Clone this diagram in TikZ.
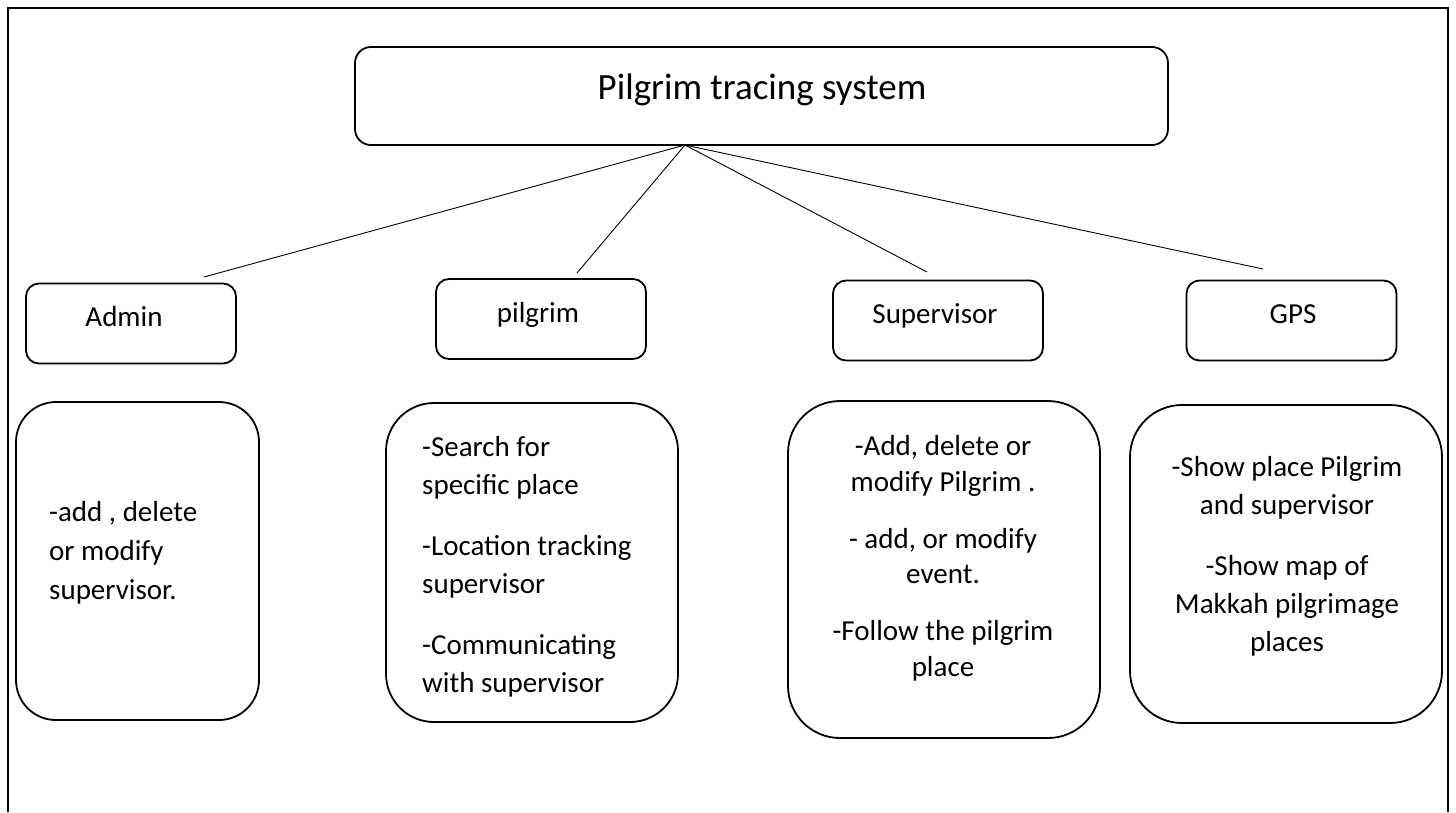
\documentclass[tikz,border=0pt]{standalone}
\usepackage{fontspec}
\setmainfont{Carlito}
\usetikzlibrary{calc}

\begin{document}
\begin{tikzpicture}[x=1pt,y=-1pt,
  outline/.style={line width=1.8pt},
  box/.style={draw, line width=1.8pt, inner sep=0pt},
  smallbox/.style={box, minimum width=210pt, minimum height=80pt, rounded corners=13pt},
  conn/.style={line width=0.9pt},
  lbl/.style={inner sep=0pt, font=\fontsize{29pt}{38pt}\selectfont},
  title/.style={inner sep=0pt, font=\fontsize{37pt}{44pt}\selectfont},
]
\useasboundingbox (0,0) rectangle (1456,812);

% open frame round the chart
\draw[outline] (8,812) -- (8,8) -- (1448,8) -- (1448,812);

% root of the tree
\node[box, minimum width=813pt, minimum height=98pt, rounded corners=16pt] (root) at (761.5,96) {};
\node[title, anchor=base] (roottxt) at (762,99) {Pilgrim tracing system};
\coordinate (hub) at (685,145);

% the four actors
\node[smallbox] (admin) at (131,323.5) {};
\node[lbl, anchor=base] (admintxt) at (124,326) {Admin};
\node[smallbox] (pilgrim) at (541,319) {};
\node[lbl, anchor=base] (pilgrimtxt) at (538,322) {pilgrim};
\node[smallbox] (super) at (938,320.5) {};
\node[lbl, anchor=base] (supertxt) at (935,323) {Supervisor};
\node[smallbox] (gps) at (1291.5,320.5) {};
\node[lbl, anchor=base] (gpstxt) at (1293,323) {GPS};

% branch lines stop just short of the actor boxes
\coordinate (endA) at (204,277);
\coordinate (endP) at (577,273);
\coordinate (endS) at (927,272);
\coordinate (endG) at (1263,269);
\draw[conn] (hub) -- (endA);
\draw[conn] (hub) -- (endP);
\draw[conn] (hub) -- (endS);
\draw[conn] (hub) -- (endG);

% duties of each actor (multi-line labels sit on the baseline of their last line)
\node[box, minimum width=243pt, minimum height=318pt, rounded corners=40pt] (dutyA) at (137.5,561) {};
\node[lbl, anchor=base west, align=left, font=\fontsize{29pt}{39pt}\selectfont] (dutyAtxt) at (49,599)
  {-add , delete\\or modify\\supervisor.};

\node[box, minimum width=292pt, minimum height=319pt, rounded corners=48pt] (dutyP) at (532,562.5) {};
\node[lbl, anchor=base west, align=left] (dutyPtxt) at (422,692)
  {-Search for\\specific place\\[23pt]-Location tracking\\supervisor\\[23pt]-Communicating\\with supervisor};

\node[box, minimum width=312pt, minimum height=337pt, rounded corners=52pt] (dutyS) at (944,569.5) {};
\node[lbl, anchor=base, align=center, font=\fontsize{29pt}{35.5pt}\selectfont] (dutyStxt) at (943,676)
  {-Add, delete or\\modify Pilgrim .\\[21.5pt]- add, or modify\\event.\\[21.5pt]-Follow the pilgrim\\place};

\node[box, minimum width=312pt, minimum height=318pt, rounded corners=52pt] (dutyG) at (1286,564) {};
\node[lbl, anchor=base, align=center] (dutyGtxt) at (1287,651)
  {-Show place Pilgrim\\and supervisor\\[23pt]-Show map of\\Makkah pilgrimage\\places};
\end{tikzpicture}
\end{document}
